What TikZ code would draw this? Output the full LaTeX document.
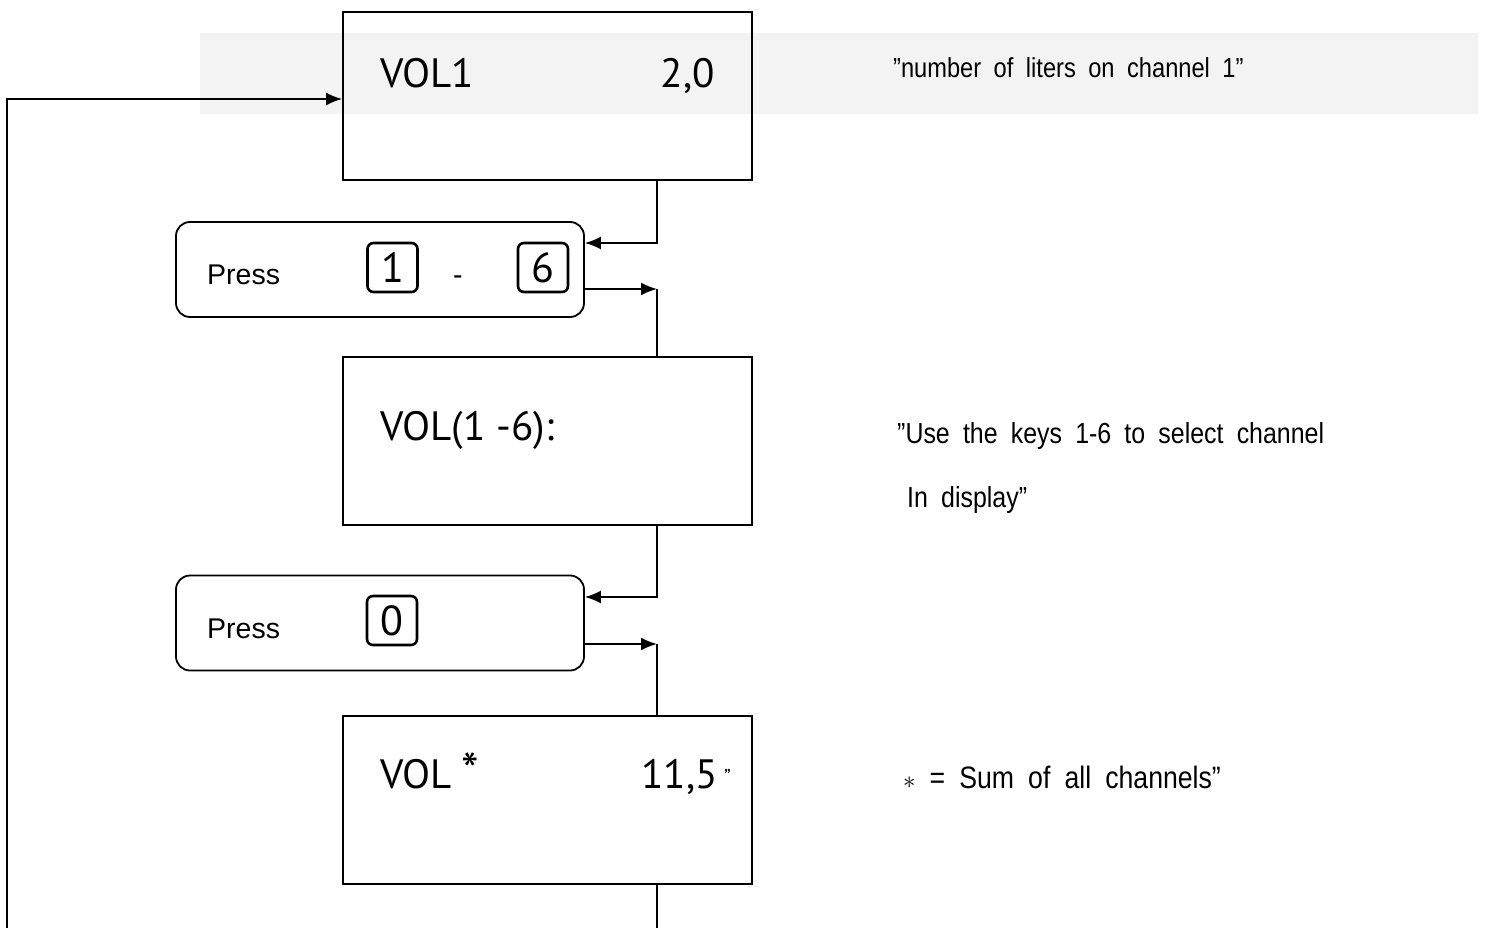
\documentclass[tikz,border=0pt]{standalone}
\usepackage{fontspec}
\setmainfont{PT Sans}
\newfontfamily\pressfont{Liberation Sans}
\newfontfamily\notefont[FakeStretch=0.86,WordSpace=1.9]{Liberation Sans}
\usepackage{tikz}
\usetikzlibrary{arrows.meta}
\usetikzlibrary{calc}

\definecolor{bandgray}{HTML}{F3F3F3}

\tikzset{
  disp/.style={draw, line width=1.8pt, minimum width=409pt, minimum height=168pt, inner sep=0pt},
  pressbox/.style={draw, line width=1.8pt, rounded corners=14pt, minimum width=408pt, minimum height=95pt, inner sep=0pt},
  keybox/.style={draw, line width=2.6pt, rounded corners=6pt, minimum width=50pt, minimum height=49pt, inner sep=0pt, font=\fontsize{42}{44}\selectfont},
  lbl/.style={inner sep=0pt, font=\fontsize{41}{44}\selectfont},
  presstxt/.style={anchor=base west, inner sep=0pt, font=\pressfont\fontsize{28.5}{32}\selectfont},
  note/.style={anchor=base west, inner sep=0pt, font=\notefont\fontsize{29}{32}\selectfont},
  arr/.style={line width=1.8pt, -{Latex[length=16pt,width=13pt]}},
  link/.style={line width=1.8pt},
}

\begin{document}
\begin{tikzpicture}[x=1pt,y=-1pt]
  \useasboundingbox (0,0) rectangle (1489,928);
  \fill[bandgray] (200,33) rectangle (1478,114);

  % display boxes
  \node[disp] (vol1) at (547.5,96) {};
  \node[disp] (vol2) at (547.5,441) {};
  \node[disp] (vol3) at (547.5,800) {};
  \node[lbl, anchor=base west] (vol1name) at (380,88) {VOL1};
  \node[lbl, anchor=base east] (vol1val) at (715,88) {2,0};
  \node[lbl, anchor=base west] (vol2name) at (380,440) {VOL(1 -6):};
  \node[lbl, anchor=base west] (vol3name) at (380,788) {VOL};
  \node[lbl, anchor=base west, font=\fontsize{50}{52}\selectfont] (vol3ast) at (461,788) {*};
  \node[lbl, anchor=base east] (vol3val) at (718,788) {11,5};
  \node[anchor=base west, inner sep=0pt, font=\fontsize{20}{22}\selectfont] (vol3quote) at (724,783) {”};

  % key boxes
  \node[pressbox] (press1) at (380,269.5) {};
  \node[pressbox] (press2) at (380,623) {};
  \node[presstxt] (press1txt) at (207,284) {Press};
  \node[presstxt] (press2txt) at (207,638) {Press};
  \node[keybox] (key1) at (392.5,267.5) {1};
  \node[presstxt] (keydash) at (453,284) {-};
  \node[keybox] (key6) at (543,267.5) {6};
  \node[keybox] (key0) at (392,620.5) {0};

  % notes
  \node[note, font=\notefont\fontsize{27.5}{32}\selectfont] (note1) at (893,78) {”number of liters on channel 1”};
  \node[note] (note2a) at (897,443) {”Use the keys 1-6 to select channel};
  \node[note] (note2b) at (907,507) {In display”};
  \node[note, font=\notefont\fontsize{31}{34}\selectfont] (note3) at (903,788) {$\ast$\ = Sum of all channels”};

  % connectors
  \coordinate (trunk) at (657,0);
  \coordinate (loopfoot) at (7,928);
  \coordinate (tailfoot) at (657,928);
  \draw[arr] (loopfoot) |- ([yshift=-3pt]vol1.west);
  \draw[arr] (vol1.south -| trunk) |- ([yshift=26.5pt]press1.east);
  \draw[arr] ([yshift=-19.5pt]press1.east) -- ([yshift=-19.5pt]press1.east -| trunk);
  \draw[link] ([yshift=-19.5pt]press1.east -| trunk) -- (vol2.north -| trunk);
  \draw[arr] (vol2.south -| trunk) |- ([yshift=26pt]press2.east);
  \draw[arr] ([yshift=-21pt]press2.east) -- ([yshift=-21pt]press2.east -| trunk);
  \draw[link] ([yshift=-21pt]press2.east -| trunk) -- (vol3.north -| trunk);
  \draw[link] (vol3.south -| trunk) -- (tailfoot);
\end{tikzpicture}
\end{document}
